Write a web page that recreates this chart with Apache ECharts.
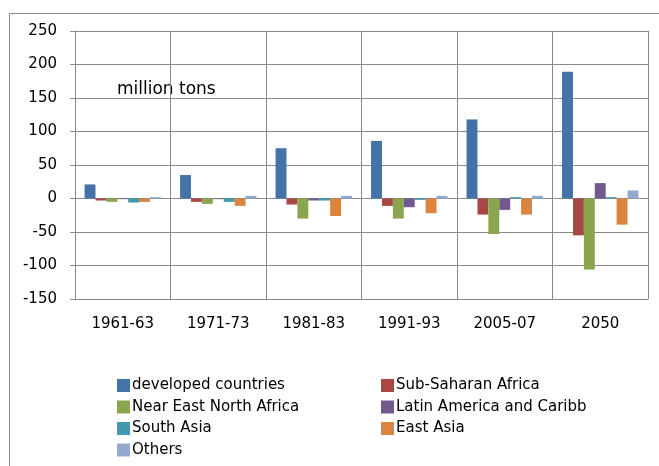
<!DOCTYPE html>
<html>
<head>
<meta charset="utf-8">
<script src="https://cdn.jsdelivr.net/npm/echarts@6/dist/echarts.min.js"></script>
<style>
html,body{margin:0;padding:0;background:#fff;}
#chart{width:659px;height:466px;}
</style>
</head>
<body>
<div id="chart"></div>
<script>
const categories = ['1961-63', '1971-73', '1981-83', '1991-93', '2005-07', '2050'];
const developed = [21, 35, 75, 86, 118, 189];
const subSaharan = [-3, -5, -9, -11, -24, -55];
const nearEast = [-5, -8, -30, -30, -53, -106];
const latinAmerica = [-1, -1, -3, -13, -17, 23];
const southAsia = [-6, -5, -3, -2, 2, 2];
const eastAsia = [-5, -11, -26, -22, -24, -39];
const others = [2, 4, 4, 4, 4, 12];
const yTicks = { min: -150, max: 250, interval: 50 };

const seriesNames = ['developed countries', 'Sub-Saharan Africa', 'Near East North Africa',
  'Latin America and Caribb', 'South Asia', 'East Asia', 'Others'];
const seriesData = [developed, subSaharan, nearEast, latinAmerica, southAsia, eastAsia, others];
const colors = ['#4572A7', '#AA4643', '#89A54E', '#71588F', '#4198AF', '#DB843D', '#93A9CF'];

const font = 'DejaVu Sans';
const chart = echarts.init(document.getElementById('chart'));

const legendCommon = {
  orient: 'vertical',
  padding: 0,
  itemWidth: 13,
  itemHeight: 13,
  itemGap: 6.5,
  icon: 'rect',
  textStyle: { fontFamily: font, fontSize: 15, color: '#000', padding: [0, 0, 0, -3] }
};

chart.setOption({
  animation: false,
  color: colors,
  graphic: [{
    type: 'rect',
    shape: { x: 9.5, y: 13.5, width: 700, height: 500 },
    style: { fill: 'none', stroke: '#8c8c8c', lineWidth: 1 },
    silent: true
  }, {
    type: 'text',
    left: 117, top: 81,
    style: { text: 'million tons', fontFamily: font, fontSize: 17, fill: '#000' }
  }],
  grid: { left: 75, right: 11, top: 31, bottom: 167, containLabel: false },
  legend: [
    Object.assign({}, legendCommon, { left: 117, top: 378, data: [seriesNames[0], seriesNames[2], seriesNames[4], seriesNames[6]] }),
    Object.assign({}, legendCommon, { left: 381, top: 378, data: [seriesNames[1], seriesNames[3], seriesNames[5]] })
  ],
  xAxis: {
    type: 'category',
    data: categories,
    axisLine: { onZero: false, lineStyle: { color: '#8a8a8a' } },
    axisTick: { show: false },
    axisLabel: { fontFamily: font, fontSize: 15, color: '#000', margin: 18 },
    splitLine: { show: true, lineStyle: { color: '#8a8a8a', width: 1 } }
  },
  yAxis: {
    type: 'value',
    min: yTicks.min, max: yTicks.max, interval: yTicks.interval,
    axisLine: { show: true, lineStyle: { color: '#8a8a8a' } },
    axisTick: { show: true, length: 5, lineStyle: { color: '#8a8a8a' } },
    axisLabel: { fontFamily: font, fontSize: 15, color: '#000', margin: 18 },
    splitLine: { show: true, lineStyle: { color: '#8a8a8a', width: 1 } }
  },
  series: seriesNames.map((n, i) => ({
    name: n,
    type: 'bar',
    data: seriesData[i],
    barGap: 0,
    barCategoryGap: '20%',
    itemStyle: { color: colors[i] }
  }))
});
</script>
</body>
</html>
